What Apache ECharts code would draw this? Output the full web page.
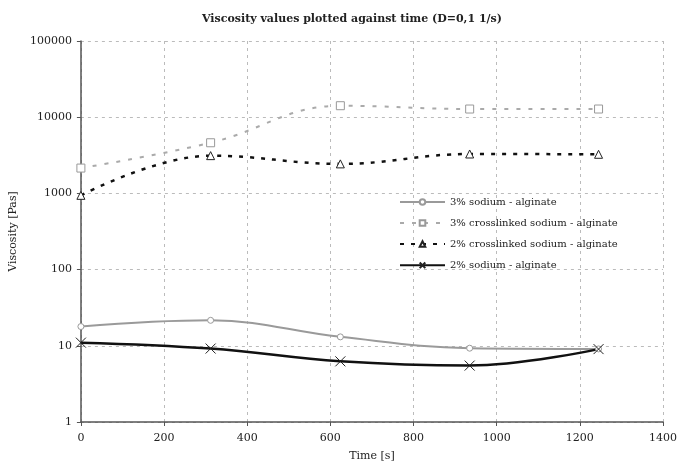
<!DOCTYPE html>
<html>
<head>
<meta charset="utf-8">
<script src="https://cdn.jsdelivr.net/npm/echarts@6/dist/echarts.min.js"></script>
<style>html,body{margin:0;padding:0;background:#fff;}#c{width:680px;height:467px;}</style>
</head>
<body>
<div id="c"></div>
<script>
const timeS = [0, 312, 624, 935, 1245];
const sodium3 = [17.9, 21.6, 13.1, 9.3, 9.1];
const crossSodium3 = [2150, 4620, 14150, 12800, 12800];
const crossSodium2 = [943, 3130, 2440, 3290, 3260];
const sodium2 = [11.0, 9.2, 6.25, 5.5, 9.05];
const seriesNames = ['3% sodium - alginate', '3% crosslinked sodium - alginate', '2% crosslinked sodium - alginate', '2% sodium - alginate'];
const xTicks = [0, 200, 400, 600, 800, 1000, 1200, 1400];

const pairs = arr => timeS.map((t, i) => [t, arr[i]]);
const font = '"DejaVu Serif", "Liberation Serif", serif';
const xPath = 'path://M0,0L10,10M10,0L0,10';

const chart = echarts.init(document.getElementById('c'));
chart.setOption({
  backgroundColor: '#fff',
  animation: false,
  title: {
    text: 'Viscosity values plotted against time (D=0,1 1/s)',
    left: 347, top: 9, textAlign: 'center',
    textStyle: { fontFamily: font, fontSize: 11, fontWeight: 'bold', color: '#222' }
  },
  grid: { left: 75, right: 13, top: 41, bottom: 43, containLabel: false },
  legend: {
    orient: 'vertical', left: 394, top: 192,
    itemWidth: 45, itemHeight: 7, itemGap: 11,
    textStyle: { fontFamily: font, fontSize: 10, color: '#222' },
    data: seriesNames
  },
  xAxis: {
    type: 'value', min: xTicks[0], max: xTicks[xTicks.length - 1], interval: 200,
    name: 'Time [s]', nameLocation: 'middle', nameGap: 29,
    nameTextStyle: { fontFamily: font, fontSize: 11, color: '#222' },
    axisLine: { lineStyle: { color: '#555', width: 1.5 } },
    axisTick: { show: true, length: 4, lineStyle: { color: '#555' } },
    axisLabel: { fontFamily: font, fontSize: 11, color: '#222', margin: 11, formatter: v => String(Math.round(v)) },
    splitLine: { show: true, lineStyle: { color: '#bbb', type: [3, 4] } }
  },
  yAxis: {
    type: 'log', logBase: 10, min: 1, max: 100000,
    name: 'Viscosity [Pas]', nameLocation: 'middle', nameGap: 55,
    nameTextStyle: { fontFamily: font, fontSize: 11, color: '#222' },
    axisLine: { show: true, lineStyle: { color: '#555', width: 1.5 } },
    axisTick: { show: true, length: 4, lineStyle: { color: '#555' } },
    axisLabel: { fontFamily: font, fontSize: 11, color: '#222', margin: 9, formatter: v => String(Math.round(v)) },
    splitLine: { show: true, lineStyle: { color: '#bbb', type: [3, 4] } }
  },
  series: [
    {
      name: seriesNames[0], type: 'line', smooth: 0.4, data: pairs(sodium3),
      symbol: 'circle', symbolSize: 6,
      lineStyle: { color: '#9a9a9a', width: 2 },
      itemStyle: { color: '#fff', borderColor: '#9a9a9a', borderWidth: 1 }
    },
    {
      name: seriesNames[1], type: 'line', smooth: 0.4, data: pairs(crossSodium3),
      symbol: 'rect', symbolSize: 8,
      lineStyle: { color: '#aaa', width: 2, type: [4, 8] },
      itemStyle: { color: '#fff', borderColor: '#999', borderWidth: 1 }
    },
    {
      name: seriesNames[2], type: 'line', smooth: 0.4, data: pairs(crossSodium2),
      symbol: 'triangle', symbolSize: 8,
      lineStyle: { color: '#111', width: 2.5, type: [4, 7] },
      itemStyle: { color: '#fff', borderColor: '#222', borderWidth: 1 }
    },
    {
      name: seriesNames[3], type: 'line', smooth: 0.4, data: pairs(sodium2),
      symbol: xPath, symbolSize: 10,
      lineStyle: { color: '#111', width: 2.5 },
      itemStyle: { color: 'none', borderColor: '#222', borderWidth: 1 }
    }
  ]
});
</script>
</body>
</html>
